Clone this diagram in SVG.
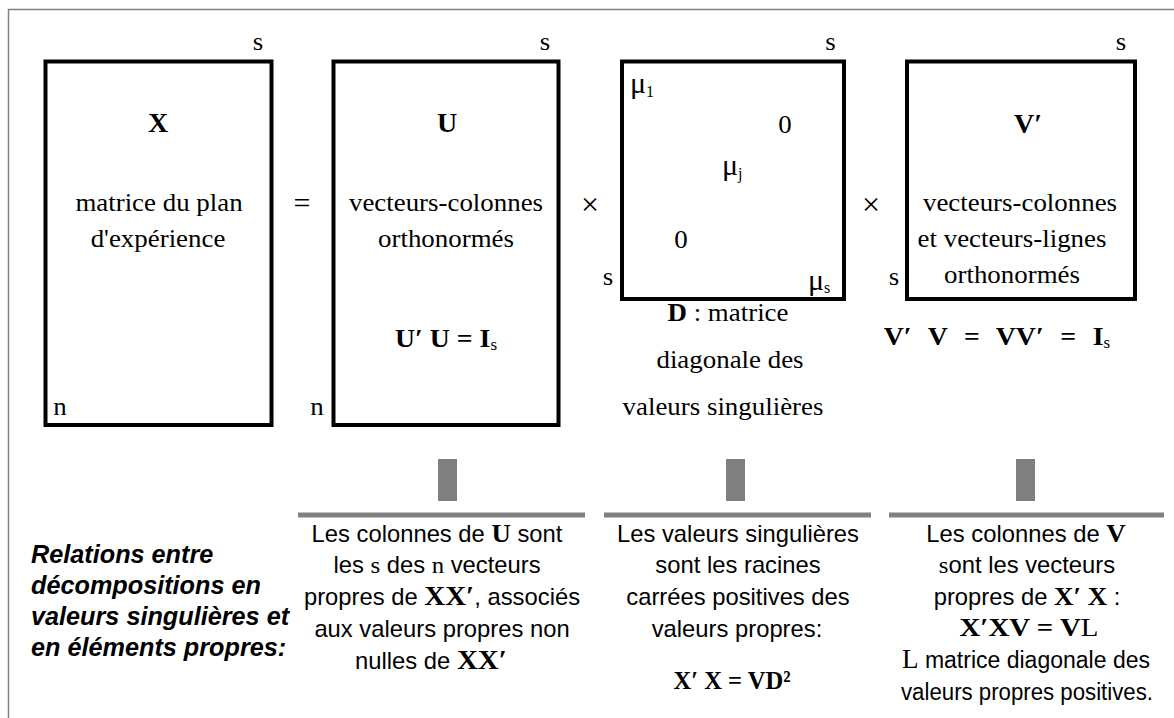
<svg xmlns="http://www.w3.org/2000/svg" width="1174" height="718" viewBox="0 0 1174 718">
<style>
.frame{fill:none;stroke:#808080;stroke-width:1.5}
.box{fill:none;stroke:#000;stroke-width:4}
.t{font-family:"Liberation Serif","Times New Roman",serif;font-size:26px;fill:#000}
.b{font-weight:bold}
.a{font-family:"Liberation Sans",Arial,sans-serif;font-size:23px;fill:#000}
.it{font-family:"Liberation Sans",Arial,sans-serif;font-size:25px;font-weight:bold;font-style:italic;fill:#000}
.sb{font-family:"Liberation Serif","Times New Roman",serif;font-weight:bold}
.sr{font-family:"Liberation Serif","Times New Roman",serif}
.bar{fill:#808080}
.m{text-anchor:middle}
.sub{font-size:16px}
.mu{font-size:30px}
.op{font-size:32px}
</style>
<rect width="1174" height="718" fill="#fff"/>
<path class="frame" d="M8.5,718 V9.5 H1174"/>

<g id="node-X">
<rect class="box" x="45.5" y="61.5" width="226" height="363.5"/>
<text class="t m" transform="translate(258 50) scale(1.035 1)">s</text>
<text class="t m b" style="font-size:28px" transform="translate(158 132)">X</text>
<text class="t m" transform="translate(159 211) scale(1.035 1)">matrice du plan</text>
<text class="t m" transform="translate(158 247) scale(1.035 1)">d'expérience</text>
<text class="t m" transform="translate(60 415) scale(1.035 1)">n</text>
</g>

<g id="op-eq">
<text class="t m" style="font-size:30px" transform="translate(302 213)">=</text>
</g>

<g id="node-U">
<rect class="box" x="333.5" y="61.5" width="225" height="363.5"/>
<text class="t m" transform="translate(545 50) scale(1.035 1)">s</text>
<text class="t m" transform="translate(317 415) scale(1.035 1)">n</text>
<text class="t m b" style="font-size:28px" transform="translate(447 132)">U</text>
<text class="t m" transform="translate(446 211) scale(1.035 1)">vecteurs-colonnes</text>
<text class="t m" transform="translate(446 247) scale(1.035 1)">orthonormés</text>
<text class="t m b" transform="translate(446 347) scale(1.07 1)">U′ U = I<tspan class="sub" style="font-weight:normal" dy="3">s</tspan></text>
</g>

<g id="op-x1">
<text class="t m op" transform="translate(590 215)">×</text>
</g>

<g id="node-D">
<rect class="box" x="622" y="61.5" width="222" height="237.5"/>
<text class="t m" transform="translate(830.5 50) scale(1.035 1)">s</text>
<text class="t m" transform="translate(608 285) scale(1.035 1)">s</text>
<text class="t mu" transform="translate(630 93)">μ<tspan class="sub" dy="4">1</tspan></text>
<text class="t m" transform="translate(785 133) scale(1.035 1)">0</text>
<text class="t mu" transform="translate(722 175)">μ<tspan class="sub" dy="4">j</tspan></text>
<text class="t m" transform="translate(681 248) scale(1.035 1)">0</text>
<text class="t mu" transform="translate(808 290)">μ<tspan class="sub" dy="3">s</tspan></text>
<text class="t m" transform="translate(728 321) scale(1.035 1)"><tspan class="b">D</tspan> : matrice</text>
<text class="t m" transform="translate(730 368) scale(1.035 1)">diagonale des</text>
<text class="t m" transform="translate(723 415) scale(1.035 1)">valeurs singulières</text>
</g>

<g id="op-x2">
<text class="t m op" transform="translate(871 215)">×</text>
</g>

<g id="node-V">
<rect class="box" x="907" y="61.5" width="228" height="237.5"/>
<text class="t m" transform="translate(1121 50) scale(1.035 1)">s</text>
<text class="t m" transform="translate(894 285) scale(1.035 1)">s</text>
<text class="t m b" style="font-size:28px" transform="translate(1028 133)">V′</text>
<text class="t m" transform="translate(1020 211) scale(1.035 1)">vecteurs-colonnes</text>
<text class="t m" transform="translate(1012 247) scale(1.035 1)">et vecteurs-lignes</text>
<text class="t m" transform="translate(1012 283) scale(1.035 1)">orthonormés</text>
<text class="t m b" style="word-spacing:9px" transform="translate(997 345) scale(1.07 1)">V′ V = VV′ = I<tspan class="sub" style="font-weight:normal" dy="3">s</tspan></text>
</g>

<g id="connectors">
<rect class="bar" x="438" y="459" width="19" height="42"/>
<rect class="bar" x="726" y="459" width="19" height="42"/>
<rect class="bar" x="1016" y="459" width="19" height="42"/>
<rect class="bar" x="298" y="512.5" width="287" height="5"/>
<rect class="bar" x="604" y="512.5" width="267" height="5"/>
<rect class="bar" x="889" y="512.5" width="275" height="5"/>
</g>

<g id="relations-title">
<text class="it" transform="translate(31 563) scale(1.01 1)">Relations entre</text>
<text class="it" transform="translate(31 594) scale(1.01 1)">décompositions en</text>
<text class="it" transform="translate(31 625) scale(1.01 1)">valeurs singulières et</text>
<text class="it" transform="translate(31 656) scale(1.01 1)">en éléments propres:</text>
</g>

<g id="note-U">
<text class="a m" transform="translate(437 542) scale(1.035 1)">Les colonnes de <tspan class="sb" style="font-size:26px">U</tspan> sont</text>
<text class="a m" transform="translate(437 573) scale(1.035 1)">les <tspan class="sr" style="font-size:24px">s</tspan> des <tspan class="sr" style="font-size:24px">n</tspan> vecteurs</text>
<text class="a m" transform="translate(442 605) scale(1.035 1)">propres de <tspan class="sb" style="font-size:28px">XX′</tspan>, associés</text>
<text class="a m" transform="translate(442 637) scale(1.035 1)">aux valeurs propres non</text>
<text class="a m" transform="translate(431 669) scale(1.035 1)">nulles de <tspan class="sb" style="font-size:28px">XX′</tspan></text>
</g>

<g id="note-D">
<text class="a m" transform="translate(738 542) scale(1.035 1)">Les valeurs singulières</text>
<text class="a m" transform="translate(738 573) scale(1.035 1)">sont les racines</text>
<text class="a m" transform="translate(738 605) scale(1.035 1)">carrées positives des</text>
<text class="a m" transform="translate(737 637) scale(1.035 1)">valeurs propres:</text>
<text class="sb m" style="font-size:26px" x="732" y="689" textLength="117" lengthAdjust="spacingAndGlyphs">X′ X = VD²</text>
</g>

<g id="note-V">
<text class="a m" transform="translate(1026 542) scale(1.035 1)">Les colonnes de <tspan class="sb" style="font-size:26px">V</tspan></text>
<text class="a m" transform="translate(1027 573) scale(1.035 1)"><tspan class="sr" style="font-size:24px">s</tspan>ont les vecteurs</text>
<text class="a m" transform="translate(1027 605) scale(1.035 1)">propres de <tspan class="sb" style="font-size:26px">X′ X</tspan> :</text>
<text class="sb m" style="font-size:26px" x="1029" y="636" textLength="139" lengthAdjust="spacingAndGlyphs">X′XV = V<tspan style="font-weight:normal">L</tspan></text>
<text class="a" x="902" y="668" textLength="248" lengthAdjust="spacingAndGlyphs"><tspan class="sr" style="font-size:27px">L</tspan> matrice diagonale des</text>
<text class="a" x="901" y="700" textLength="252" lengthAdjust="spacingAndGlyphs">valeurs propres  positives.</text>
</g>
</svg>
